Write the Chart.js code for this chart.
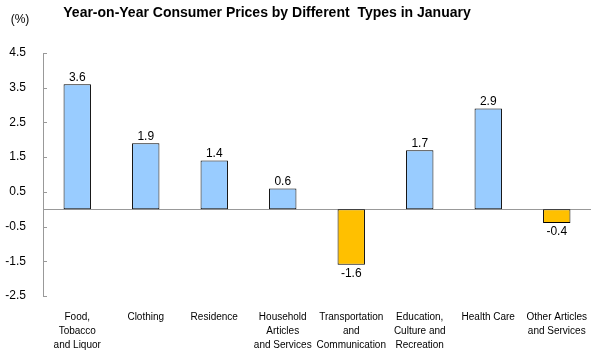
<!DOCTYPE html>
<html>
<head>
<meta charset="utf-8">
<script src="https://cdn.jsdelivr.net/npm/chart.js@4/dist/chart.umd.min.js"></script>
<style>
  html, body { margin: 0; padding: 0; background: #fff; }
  #wrap { width: 605px; height: 353px; position: relative; }
</style>
</head>
<body>
<div id="wrap"><canvas id="chart"></canvas></div>
<script>
const categories = [
  ['Food,', 'Tobacco', 'and Liquor'],
  ['Clothing'],
  ['Residence'],
  ['Household', 'Articles', 'and Services'],
  ['Transportation', 'and', 'Communication'],
  ['Education,', 'Culture and', 'Recreation'],
  ['Health Care'],
  ['Other Articles', 'and Services']
]
const changes = [3.6, 1.9, 1.4, 0.6, -1.6, 1.7, 2.9, -0.4]
const yTicks = [4.5, 3.5, 2.5, 1.5, 0.5, -0.5, -1.5, -2.5]

const FONT = '"Liberation Sans", Arial, sans-serif'
const AXIS_GRAY = '#999999'

// title, unit label, zero line, inward tick marks and value labels
const decorPlugin = {
  id: 'decor',
  beforeDatasetsDraw (chart) {
    const { ctx, chartArea: { left, right } } = chart
    const y = chart.scales.y
    ctx.save()
    ctx.strokeStyle = AXIS_GRAY
    ctx.lineWidth = 1
    const zero = Math.round(y.getPixelForValue(0)) + 0.5
    ctx.beginPath()
    ctx.moveTo(left, zero)
    ctx.lineTo(right, zero)
    ctx.stroke()
    y.ticks.forEach((t) => {
      const py = Math.round(y.getPixelForValue(t.value)) + 0.5
      ctx.beginPath()
      ctx.moveTo(left, py)
      ctx.lineTo(left + 4, py)
      ctx.stroke()
    })
    ctx.restore()
  },
  afterDatasetsDraw (chart) {
    const { ctx } = chart
    ctx.save()
    ctx.fillStyle = '#000'
    ctx.font = '12px ' + FONT
    ctx.textAlign = 'center'
    chart.getDatasetMeta(0).data.forEach((bar, i) => {
      const v = changes[i]
      if (v >= 0) {
        ctx.textBaseline = 'bottom'
        ctx.fillText(v.toFixed(1), bar.x, bar.y - 1)
      } else {
        ctx.textBaseline = 'top'
        ctx.fillText(v.toFixed(1), bar.x, bar.y + 3)
      }
    })
    ctx.font = 'bold 14px ' + FONT
    ctx.textBaseline = 'middle'
    ctx.fillText('Year-on-Year Consumer Prices by Different  Types in January', 267, 13)
    ctx.font = '12px ' + FONT
    ctx.fillText('(%)', 20, 20)
    ctx.restore()
  }
}

new Chart(document.getElementById('chart'), {
  type: 'bar',
  data: {
    labels: categories,
    datasets: [{
      data: changes,
      backgroundColor: changes.map(v => v >= 0 ? '#99CCFF' : '#FFC000'),
      borderColor: '#000',
      borderWidth: 1,
      borderSkipped: false,
      categoryPercentage: 0.8,
      barPercentage: 0.5
    }]
  },
  options: {
    responsive: true,
    maintainAspectRatio: false,
    animation: false,
    layout: { padding: { top: 53, right: 14, left: 0, bottom: 0 } },
    plugins: {
      legend: { display: false },
      tooltip: { enabled: false },
      title: { display: false }
    },
    scales: {
      x: {
        grid: { display: false },
        border: { display: false },
        ticks: {
          color: '#000',
          font: { family: FONT, size: 10, lineHeight: 1.4 },
          maxRotation: 0,
          autoSkip: false,
          padding: 6
        },
        afterFit (scale) { scale.height = 57 }
      },
      y: {
        min: -2.5,
        max: 4.5,
        afterBuildTicks (scale) { scale.ticks = yTicks.map(v => ({ value: v })) },
        grid: { display: false, drawTicks: false },
        border: { display: true, color: AXIS_GRAY, width: 1 },
        ticks: {
          color: '#000',
          font: { family: FONT, size: 12 },
          padding: 17,
          callback: (v) => v.toFixed(1)
        },
        afterFit (scale) { scale.width = 43 }
      }
    }
  },
  plugins: [decorPlugin]
})
</script>
</body>
</html>
